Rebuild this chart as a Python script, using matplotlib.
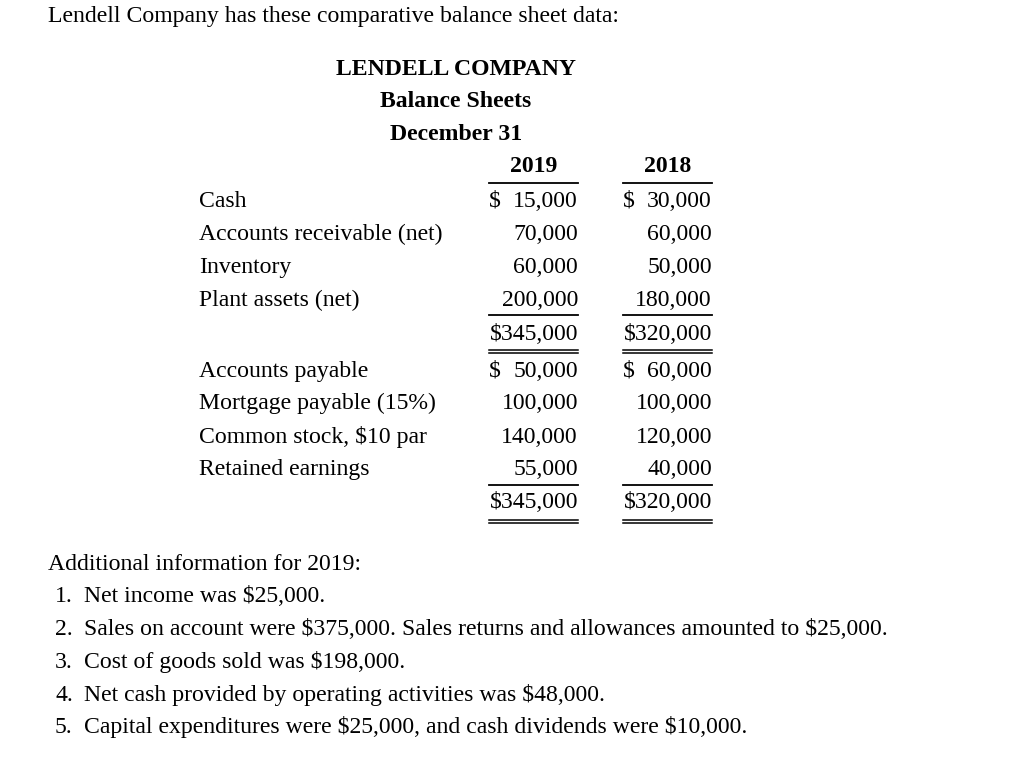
import matplotlib
matplotlib.use("Agg")
import matplotlib.pyplot as plt

intro = "Lendell Company has these comparative balance sheet data:"
header = ["LENDELL COMPANY", "Balance Sheets", "December 31"]
years = ["2019", "2018"]
asset_labels = ["Cash", "Accounts receivable (net)", "Inventory", "Plant assets (net)"]
assets_2019 = [15000, 70000, 60000, 200000]
assets_2018 = [30000, 60000, 50000, 180000]
liab_labels = ["Accounts payable", "Mortgage payable (15%)", "Common stock, $10 par", "Retained earnings"]
liab_2019 = [50000, 100000, 140000, 55000]
liab_2018 = [60000, 100000, 120000, 40000]
info_title = "Additional information for 2019:"
info_items = [
    "Net income was $25,000.",
    "Sales on account were $375,000. Sales returns and allowances amounted to $25,000.",
    "Cost of goods sold was $198,000.",
    "Net cash provided by operating activities was $48,000.",
    "Capital expenditures were $25,000, and cash dividends were $10,000.",
]

FONT = "Liberation Serif"
FS = 17.1
W, H = 1024, 772
fig = plt.figure(figsize=(W / 100, H / 100), dpi=100)
ax = fig.add_axes([0, 0, 1, 1])
ax.set_xlim(0, W)
ax.set_ylim(H, 0)
ax.axis("off")

def txt(x, y, s, ha="left", weight="normal"):
    ax.text(x, y, s, ha=ha, va="baseline", fontsize=FS, family=FONT,
            fontweight=weight, color="black", parse_math=False)

txt(48, 22, intro)
for s, y in zip(header, [75, 107, 140.5]):
    txt(456, y, s, ha="center", weight="bold")

col_left = [489, 623]
col_right = [578, 712]
for yr, l, r in zip(years, col_left, col_right):
    txt((l + r) / 2, 172, yr, ha="center", weight="bold")
    ax.plot([l, r], [183, 183], color="black", lw=1.3)

def fmt(v):
    return f"{v:,}"

def block(labels, v19, v18, ys, total_y, single_y, dbl_y):
    for i, (lab, y) in enumerate(zip(labels, ys)):
        txt(199, y, lab)
        for vals, l, r in zip([v19, v18], col_left, col_right):
            txt(r, y, fmt(vals[i]), ha="right")
            if i == 0:
                txt(l, y, "$", ha="left")
    for vals, l, r in zip([v19, v18], col_left, col_right):
        txt(r, total_y, "$" + fmt(sum(vals)), ha="right")
        ax.plot([l, r], [single_y, single_y], color="black", lw=1.3)
        ax.plot([l, r], [dbl_y, dbl_y], color="black", lw=1.1)
        ax.plot([l, r], [dbl_y + 3, dbl_y + 3], color="black", lw=1.1)

block(asset_labels, assets_2019, assets_2018, [207, 240, 273, 306], 340, 315, 349.5)
block(liab_labels, liab_2019, liab_2018, [377, 409, 443, 475], 508, 485, 519.5)

txt(48, 570, info_title)
for i, (s, y) in enumerate(zip(info_items, [602, 635, 668, 701, 733])):
    txt(55, y, f"{i + 1}.")
    txt(84, y, s)

fig.savefig("out.png", dpi=100, facecolor="white")
